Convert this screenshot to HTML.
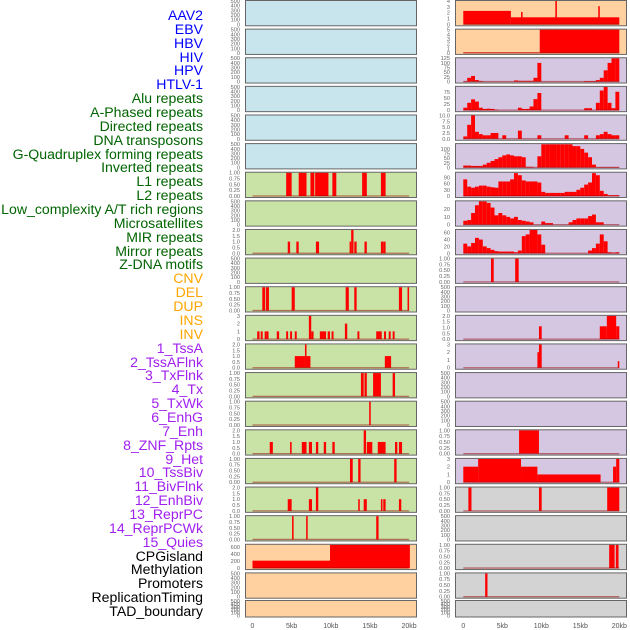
<!DOCTYPE html>
<html><head><meta charset="utf-8">
<style>
html,body{margin:0;padding:0;background:#fff;}
body{width:630px;height:630px;overflow:hidden;position:relative;font-family:"Liberation Sans",sans-serif;}
#labels div{position:absolute;right:427px;font-size:14.1px;line-height:14px;white-space:nowrap;}
svg{position:absolute;left:0;top:0;}
</style></head>
<body>
<div id="labels"></div>
<svg id="chart" width="630" height="630"></svg>
<script>
// ---- track labels ----
const labelNames = ["AAV2","EBV","HBV","HIV","HPV","HTLV-1","Alu repeats","A-Phased repeats","Directed repeats","DNA transposons","G-Quadruplex forming repeats","Inverted repeats","L1 repeats","L2 repeats","Low_complexity A/T rich regions","Microsatellites","MIR repeats","Mirror repeats","Z-DNA motifs","CNV","DEL","DUP","INS","INV","1_TssA","2_TssAFlnk","3_TxFlnk","4_Tx","5_TxWk","6_EnhG","7_Enh","8_ZNF_Rpts","9_Het","10_TssBiv","11_BivFlnk","12_EnhBiv","13_ReprPC","14_ReprPCWk","15_Quies","CPGisland","Methylation","Promoters","ReplicationTiming","TAD_boundary"];
const labelColors = ["#0000ff","#006400","#ffa500","#a020f0","#000000"];
const labelGroupSizes = [6,13,5,15,5];

// ---- tick label sets ----
const ticksDefault = ["0","100","200","300","400","500"];
const ticksUnit = ["0.00","0.25","0.50","0.75","1.00"];
const ticksTwo = ["0.0","0.5","1.0","1.5","2.0"];
const ticksThree = ["0","1","2","3"];
const xTickLabels = ["0","5kb","10kb","15kb","20kb"];
const xTickValues = [0,5,10,15,20];

// ---- column 1 data (segments: start kb, end kb, value) ----
const aluBars = [[4.3,5.0,1],[5.9,6.9,1],[7.4,7.9,1],[8.0,9.7,1],[10.2,10.7,1],[14.0,14.6,1],[16.4,17.0,1]];
const directedBars = [[4.5,4.8,1],[5.6,5.9,1],[8.1,8.5,1],[12.4,12.6,1],[12.6,12.9,2],[13.0,13.3,1],[14.3,14.6,1],[16.4,16.7,1],[16.7,17.0,1]];
const gquadBars = [[1.25,1.6,1],[1.7,2.1,1],[5.0,5.4,1],[11.9,12.3,1],[13.0,13.3,1],[18.7,19.1,1],[19.8,20.0,1]];
const invertedBars = [[0.6,0.9,1],[1.05,1.3,1],[1.55,1.8,1],[1.8,2.05,1],[3.1,3.4,1],[4.3,4.55,1],[4.8,5.05,1],[5.4,5.65,1],[7.2,7.5,3],[7.5,7.8,1],[8.6,9.4,1],[9.6,9.9,1],[10.1,10.35,1],[11.8,12.1,2],[13.4,13.65,1],[15.8,16.5,1],[16.8,17.05,1],[17.4,17.65,1],[17.9,18.15,1]];
const l1Bars = [[5.4,6.7,1],[6.7,6.9,2],[6.9,7.4,1],[16.9,17.7,1]];
const l2Bars = [[13.85,14.2,1],[14.3,14.6,1],[15.4,16.4,1],[17.9,18.2,1]];
const lowcBars = [[14.9,15.1,1]];
const microBars = [[2.2,2.6,1],[4.8,5.0,1],[6.3,6.9,1],[7.2,7.6,1],[8.1,8.4,1],[9.1,9.4,1],[10.2,10.5,1],[14.2,14.5,2],[14.6,15.3,1],[16.0,17.0,1],[18.2,18.5,1],[18.7,19.1,1]];
const mirBars = [[12.45,12.8,1],[13.5,13.8,1],[18.1,18.4,1]];
const mirrorBars = [[4.5,5.0,1],[7.2,7.6,1],[8.1,8.4,2],[13.5,13.7,1],[14.2,14.6,1],[16.4,16.6,1],[16.7,17.0,1],[18.7,19.0,1]];
const zdnaBars = [[5.05,5.25,1],[6.85,7.05,1],[15.8,16.1,1]];
const cnvBars = [[0,9.9,210],[9.9,20.1,660]];

// ---- column 2 data ----
const insBars = [[0,6.1,2.3],[6.1,20,1.2],[7.4,7.6,2.1],[11.8,12.0,4],[17.3,17.5,3.1]];
const invBars = [[0,9.8,0.1],[9.8,20,5]];
// histograms: 0.5kb bins from 0 to 20kb
const tssaBins = [2,20,30,8,3,0,0,0,0,0,0,0,0,6,4,4,4,4,20,100,0,0,0,0,0,0,0,0,0,0,0,3,3,3,8,20,60,100,125,125];
const tssaflnkBins = [10,30,44,35,10,5,6,5,2,0,0,0,0,0,10,5,5,15,45,70,0,0,0,0,0,0,0,0,0,0,0,8,8,0,30,80,95,30,8,75];
const txflnkBins = [1,6,10,3,2,1.5,1.5,2.5,2.5,0,1.5,0,0,0,3.5,0,0,0,0,1.5,0,0,0,0,0,0,1.5,0,0,0,0,1.5,0,0,1.5,2,3,2,1.5,1.5];
const txBins = [10,10,8,8,8,15,25,35,45,55,65,70,65,60,60,55,3,3,0,60,125,125,125,125,125,125,125,125,115,115,100,80,55,15,2,2,2,2,2,2];
const txwkBins = [80,45,40,45,50,50,45,42,40,70,70,70,80,110,100,75,70,70,70,65,20,15,15,15,15,15,20,20,20,30,40,55,65,110,100,25,10,4,4,4];
const enhgBins = [5,6,15,25,30,30,28,22,12,15,12,10,8,10,6,5,4,3,0,0,4,2,2,0,0,0,0,3,6,8,8,8,11,13,3,3,0,0,0,0];
const enhBins = [28,20,30,45,40,20,15,10,6,5,5,5,5,3,8,50,55,68,68,55,25,0,0,0,0,0,0,0,0,0,0,0,8,15,28,55,35,3,2,3];
const znfBars = [[3.55,3.9,1],[6.65,7.1,1]];
const tssbivBars = [[9.7,10.05,1.1],[17.5,18.4,1.1],[18.4,19.6,2.0],[19.6,20,1.1]];
const bivflnkBars = [[9.5,9.7,2],[9.7,10.05,3],[19.8,20,0.85]];
const reprpcwkBars = [[7.15,9.7,1]];
const quiesBars = [[0,1.9,2],[1.9,7.4,3],[7.4,9.5,2],[9.5,17.6,1],[19.2,19.6,2],[19.6,20,3]];
const cpgBars = [[0.65,1.05,1],[9.7,10.05,1],[18.45,20,1]];
const promoterBars = [[18.7,19.4,1],[19.55,19.9,1]];
const reptimeBars = [[2.8,3.1,1]];

function hist(bins){ return bins.map((v,i)=>[i*0.5,i*0.5+0.5,v]); }
const BLUE="#c8e4ec", GREEN="#c9e2a6", PEACH="#ffd0a0", LAV="#d5c6e2", GRAY="#d3d3d3";
const col1 = [
 [null,ticksDefault,null,500,BLUE],[null,ticksDefault,null,500,BLUE],[null,ticksDefault,null,500,BLUE],
 [null,ticksDefault,null,500,BLUE],[null,ticksDefault,null,500,BLUE],[null,ticksDefault,null,500,BLUE],
 [aluBars,ticksUnit,null,1,GREEN],[null,ticksDefault,null,500,GREEN],[directedBars,ticksTwo,null,2,GREEN],
 [null,ticksDefault,null,500,GREEN],[gquadBars,ticksUnit,null,1,GREEN],[invertedBars,ticksThree,null,3,GREEN],
 [l1Bars,ticksTwo,null,2,GREEN],[l2Bars,ticksUnit,null,1,GREEN],[lowcBars,ticksUnit,null,1,GREEN],
 [microBars,ticksTwo,null,2,GREEN],[mirBars,ticksUnit,null,1,GREEN],[mirrorBars,ticksTwo,null,2,GREEN],
 [zdnaBars,ticksUnit,null,1,GREEN],[cnvBars,["0","200","400","600"],[0,200,400,600],660,PEACH],
 [null,ticksDefault,null,500,PEACH],[null,ticksDefault,null,500,PEACH]
];
const col2 = [
 [insBars,["0","1","2","3","4"],[0,1,2,3,4],4,PEACH],[invBars,["0","1","2","3","4","5"],[0,1,2,3,4,5],5,PEACH],
 [hist(tssaBins),["0","25","50","75","100","125"],[0,25,50,75,100,125],125,LAV],
 [hist(tssaflnkBins),["0","25","50","75"],[0,25,50,75],95,LAV],
 [hist(txflnkBins),["0.0","2.5","5.0","7.5","10.0"],[0,2.5,5,7.5,10],10,LAV],
 [hist(txBins),["0","25","50","75","100"],[0,25,50,75,100],126,LAV],
 [hist(txwkBins),["0","30","60","90"],[0,30,60,90],112,LAV],
 [hist(enhgBins),["0","10","20"],[0,10,20],30,LAV],
 [hist(enhBins),["0","20","40","60"],[0,20,40,60],68,LAV],
 [znfBars,ticksUnit,null,1,LAV],[null,ticksDefault,null,500,LAV],
 [tssbivBars,ticksTwo,null,2,LAV],[bivflnkBars,ticksThree,null,3,LAV],
 [null,ticksDefault,null,500,LAV],[null,ticksDefault,null,500,LAV],
 [reprpcwkBars,ticksUnit,null,1,LAV],[quiesBars,ticksThree,null,3,LAV],
 [cpgBars,ticksUnit,null,1,GRAY],[null,ticksDefault,null,500,GRAY],
 [promoterBars,ticksUnit,null,1,GRAY],[reptimeBars,ticksUnit,null,1,GRAY],[null,ticksDefault,null,500,GRAY]
];

const lab = document.getElementById('labels');
let gi=0, cnt=0;
labelNames.forEach((n,i)=>{
  const d=document.createElement('div');
  d.textContent=n;
  d.style.top=(15+i*13.86-7)+'px';
  d.style.color=labelColors[gi];
  
  
  lab.appendChild(d);
  cnt++; if(cnt>=labelGroupSizes[gi]){gi++;cnt=0;}
});

const NS="http://www.w3.org/2000/svg";
const svg=document.getElementById('chart');
function mk(tag,attrs,parent){const e=document.createElementNS(NS,tag);for(const k in attrs)e.setAttribute(k,attrs[k]);(parent||svg).appendChild(e);return e;}

function drawColumn(col, px0, px1, x0, kbScale, tickRight, colName){
  const xs = kb => x0 + kb*kbScale;
  col.forEach((p,i)=>{
    const [segs,ticks,tvals,ymax,bg]=p;
    const top = i<21 ? 0.5+i*28.62 : 600.5;
    const h = i<21 ? 25.3 : 16.5;
    const bottom = top+h;
    const ys = v => (bottom-1.5) - v/ymax*(h-2);
    const g=mk('g',{});
    
    
    const bgR=mk('rect',{x:px0,y:top,width:px1-px0,height:h,fill:bg},g);
    
    
    if(segs){
      segs.forEach(s=>{
        if(s[2]<=0) return;
        const r=mk('rect',{x:xs(s[0]),y:ys(Math.min(s[2],ymax)),width:Math.max(0.8,xs(s[1])-xs(s[0])),height:ys(0)-ys(Math.min(s[2],ymax)),fill:'#ff0000'},g);
        
        
      });
      const bl=mk('line',{x1:xs(0),x2:xs(20),y1:ys(0),y2:ys(0),stroke:'rgba(150,0,0,0.5)','stroke-width':1.3},g);
      
      
    }
    mk('rect',{x:px0,y:top,width:px1-px0,height:h,fill:'none',stroke:'#666','stroke-width':1},g);
    ticks.forEach((t,k)=>{
      const v = tvals ? tvals[k] : k*ymax/(ticks.length-1);
      const tx=mk('text',{x:tickRight,y:ys(v)+2,'font-size':5.6,fill:'#666','text-anchor':'end','font-family':'Liberation Sans, sans-serif'},g);
      tx.textContent=t;
      
      
    });
  });
  xTickValues.forEach((v,k)=>{
    const tx=mk('text',{x:xs(v),y:628,'font-size':7,fill:'#555','text-anchor':'middle','font-family':'Liberation Sans, sans-serif'});
    tx.textContent=xTickLabels[k];
    
    
  });
}
drawColumn(col1,245.5,416.5,252.5,7.83,240,'left');
drawColumn(col2,455.5,626.5,463.3,7.8,450,'right');
</script>
</body></html>
